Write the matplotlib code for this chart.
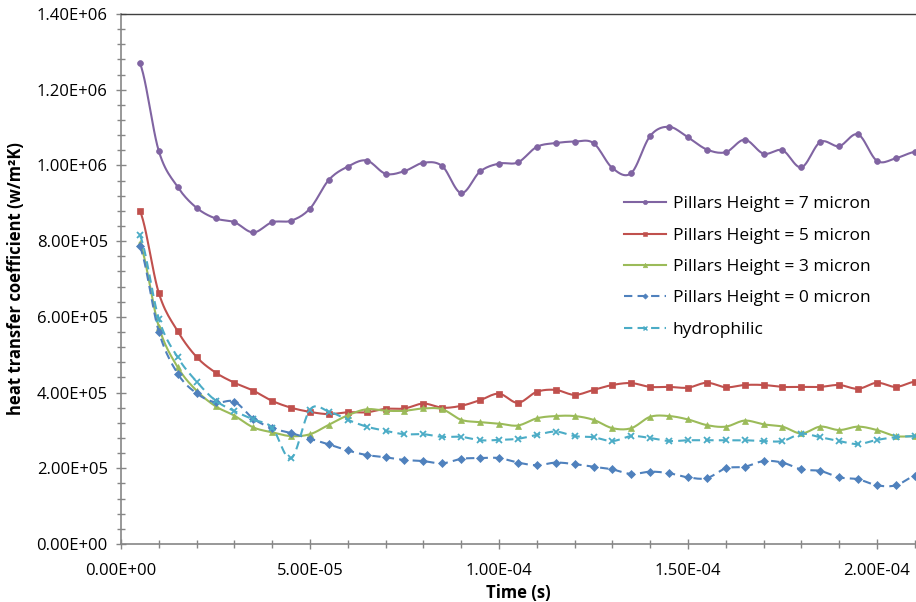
import matplotlib.pyplot as plt
import numpy as np
from matplotlib.lines import Line2D
from matplotlib.ticker import MultipleLocator, FuncFormatter

plt.rcParams['font.family'] = ['Open Sans', 'DejaVu Sans']

# sample times: every 5 microseconds from 5e-6 to 2.1e-4 s
time_s = np.arange(5, 215, 5) * 1e-6

# heat transfer coefficient, in units of 1e5 W/m2K
h_7 = [12.70, 10.38, 9.43, 8.88, 8.60, 8.50, 8.23, 8.50, 8.54, 8.86,
       9.62, 9.97, 10.13, 9.78, 9.85, 10.07, 9.98, 9.27, 9.84, 10.05,
       10.08, 10.49, 10.59, 10.63, 10.59, 9.93, 9.80, 10.78, 11.02, 10.74,
       10.42, 10.35, 10.68, 10.31, 10.40, 9.95, 10.62, 10.51, 10.82, 10.12,
       10.19, 10.36]
h_5 = [8.80, 6.63, 5.62, 4.94, 4.53, 4.26, 4.05, 3.78, 3.60, 3.49,
       3.43, 3.48, 3.48, 3.57, 3.58, 3.71, 3.60, 3.65, 3.80, 3.97,
       3.73, 4.02, 4.07, 3.94, 4.07, 4.20, 4.25, 4.15, 4.15, 4.13,
       4.26, 4.14, 4.20, 4.20, 4.15, 4.15, 4.15, 4.20, 4.10, 4.26,
       4.15, 4.29]
h_3 = [7.95, 5.74, 4.67, 4.05, 3.64, 3.39, 3.08, 2.95, 2.85, 2.90,
       3.15, 3.40, 3.56, 3.52, 3.52, 3.58, 3.56, 3.28, 3.22, 3.18,
       3.13, 3.32, 3.38, 3.38, 3.28, 3.06, 3.06, 3.36, 3.38, 3.29,
       3.14, 3.10, 3.26, 3.16, 3.10, 2.92, 3.10, 3.01, 3.10, 3.01,
       2.85, 2.85]
h_0 = [7.86, 5.61, 4.50, 3.98, 3.74, 3.76, 3.31, 3.06, 2.93, 2.78,
       2.63, 2.47, 2.35, 2.29, 2.22, 2.19, 2.13, 2.25, 2.27, 2.27,
       2.15, 2.08, 2.15, 2.11, 2.04, 1.97, 1.85, 1.91, 1.87, 1.76,
       1.74, 2.00, 2.04, 2.19, 2.15, 1.97, 1.93, 1.76, 1.71, 1.55,
       1.55, 1.80]
h_hydro = [8.16, 5.95, 4.93, 4.29, 3.79, 3.51, 3.29, 3.07, 2.26, 3.55,
           3.50, 3.28, 3.10, 2.99, 2.90, 2.90, 2.83, 2.83, 2.74, 2.75,
           2.78, 2.88, 2.97, 2.85, 2.82, 2.72, 2.85, 2.80, 2.72, 2.74,
           2.74, 2.74, 2.74, 2.72, 2.72, 2.91, 2.82, 2.72, 2.64, 2.75,
           2.82, 2.85]

labels = ['Pillars Height = 7 micron', 'Pillars Height = 5 micron',
          'Pillars Height = 3 micron', 'Pillars Height = 0 micron',
          'hydrophilic']
colors = ['#8064A2', '#C0504D', '#9BBB59', '#4F81BD', '#4BACC6']
markers = ['o', 's', '^', 'D', 'x']
sizes = [4.2, 4.2, 4.4, 3.6, 4.6]
dashes = ['-', '-', '-', (0, (4, 2.5)), (0, (4, 2.5))]

N_SEG = 12


def smooth(x, y, n=N_SEG):
    # Catmull-Rom curve through the points, n samples per segment
    x = np.asarray(x, float)
    y = np.asarray(y, float)
    px = np.concatenate([[2 * x[0] - x[1]], x, [2 * x[-1] - x[-2]]])
    py = np.concatenate([[y[0]], y, [y[-1]]])
    t = np.linspace(0, 1, n, endpoint=False)[:, None]
    out = []
    for p in (px, py):
        p0, p1, p2, p3 = p[:-3], p[1:-2], p[2:-1], p[3:]
        seg = 0.5 * (2 * p1 + (-p0 + p2) * t
                     + (2 * p0 - 5 * p1 + 4 * p2 - p3) * t ** 2
                     + (-p0 + 3 * p1 - 3 * p2 + p3) * t ** 3)
        out.append(np.append(seg.T.ravel(), p[-2]))
    return out


fig = plt.figure(figsize=(9.16, 6.02), dpi=100)
ax = fig.add_axes([121 / 916, 58 / 602, 793.8 / 916, 530 / 602])

series = [h_7, h_5, h_3, h_0, h_hydro]
handles = []
for vals, lab, c, m, ms, ls in zip(series, labels, colors, markers, sizes, dashes):
    mew = 1.3 if m == 'x' else 0.5
    xs, ys = smooth(time_s, np.asarray(vals) * 1e5)
    ax.plot(xs, ys, color=c, lw=1.5, ls=ls, marker=m, markersize=ms,
            markevery=N_SEG, markeredgewidth=mew)
    handles.append(Line2D([], [], color=c, lw=1.5, ls=ls, marker=m,
                          markersize=ms * 0.75, markeredgewidth=mew * 0.8,
                          label=lab))

ax.set_xlim(0, 2.1e-4)
ax.set_ylim(0, 1.4e6)

sci = FuncFormatter(lambda v, pos: '%.2E' % v)
ax.xaxis.set_major_locator(MultipleLocator(5e-5))
ax.xaxis.set_minor_locator(MultipleLocator(1e-5))
ax.yaxis.set_major_locator(MultipleLocator(2e5))
ax.yaxis.set_minor_locator(MultipleLocator(4e4))
ax.xaxis.set_major_formatter(sci)
ax.yaxis.set_major_formatter(sci)

ax.tick_params(axis='both', which='major', labelsize=12, color='#868686',
               direction='inout', length=7, width=1)
ax.tick_params(axis='both', which='minor', color='#868686',
               direction='inout', length=6, width=1)
ax.tick_params(axis='x', which='major', pad=10)
ax.tick_params(axis='y', which='major', pad=6)

for side in ('left', 'bottom'):
    ax.spines[side].set_color('#868686')
    ax.spines[side].set_linewidth(1.2)
ax.spines['top'].set_color('#404040')
ax.spines['top'].set_linewidth(1.0)
ax.spines['right'].set_visible(False)

ax.set_xlabel('Time (s)', fontsize=12, fontweight='bold', labelpad=4)
ax.set_ylabel('heat transfer coefficient (w/m²K)', fontsize=12,
              fontweight='bold', labelpad=8)

ax.legend(handles=handles, loc='upper left',
          bbox_to_anchor=(624 / 916, 1 - 196 / 602),
          bbox_transform=fig.transFigure, frameon=False, fontsize=12.5,
          handlelength=2.4, handletextpad=0.4, labelspacing=0.88,
          borderpad=0, borderaxespad=0)

fig.savefig('out.png', dpi=100)
